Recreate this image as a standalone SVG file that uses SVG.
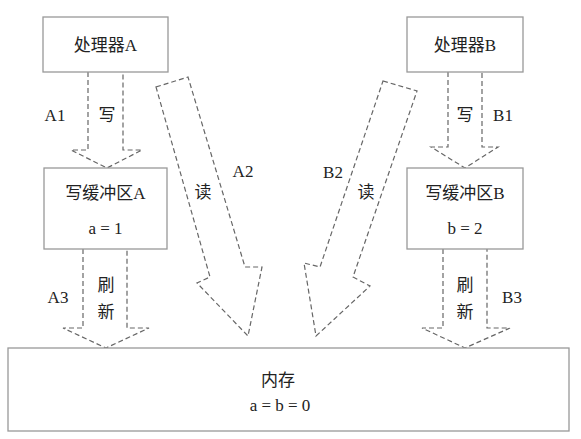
<svg xmlns="http://www.w3.org/2000/svg" width="581" height="439" viewBox="0 0 581 439">
<style>
.box{fill:#fff;stroke:#999;stroke-width:1.3}
.arr{fill:none;stroke:#666;stroke-width:1.2;stroke-dasharray:5,3}
text{font-family:"Liberation Serif","Noto Sans CJK SC",serif;font-size:17px;fill:#222;text-anchor:middle;dominant-baseline:central}
</style>
<rect width="581" height="439" fill="#fff"/>
<g id="connectors">
<polyline class="arr" points="88,72 88,150 71,150 107,168 142,150 123,150 123,72"/>
<polyline class="arr" points="448,72 448,147 431,147 465,168 498,147 482,147 482,72"/>
<polyline class="arr" points="83,249 83,328 63,328 106,348 149,328 127,328 127,249"/>
<polyline class="arr" points="443,249 443,328 422,328 465,348 510,328 487,328 487,249"/>
<polygon class="arr" points="156,87 188,77 245,267 262,267 248,336 197,283 210,277"/>
<polygon class="arr" points="383,81 417,91 353,277 370,286 316,336 304,263 320,267"/>
<text x="55" y="115">A1</text>
<text x="107" y="115">写</text>
<text x="465" y="115">写</text>
<text x="503" y="115">B1</text>
<text x="203" y="192">读</text>
<text x="243" y="171">A2</text>
<text x="366" y="192">读</text>
<text x="333" y="172">B2</text>
<text x="106" y="285">刷</text>
<text x="106" y="312">新</text>
<text x="58" y="297">A3</text>
<text x="465" y="285">刷</text>
<text x="465" y="312">新</text>
<text x="512" y="297">B3</text>
</g>
<g id="procA"><rect class="box" x="43" y="17" width="125" height="55"/><text x="105.5" y="45">处理器A</text></g>
<g id="procB"><rect class="box" x="407" y="17" width="116" height="55"/><text x="465" y="45">处理器B</text></g>
<g id="bufA"><rect class="box" x="44" y="168" width="123" height="81"/><text x="105.5" y="193">写缓冲区A</text><text x="105.5" y="228">a = 1</text></g>
<g id="bufB"><rect class="box" x="407" y="168" width="116" height="81"/><text x="465" y="193">写缓冲区B</text><text x="465" y="228">b = 2</text></g>
<g id="mem"><rect class="box" x="8" y="348" width="561" height="83"/><text x="278" y="380">内存</text><text x="280" y="405">a = b = 0</text></g>
</svg>
